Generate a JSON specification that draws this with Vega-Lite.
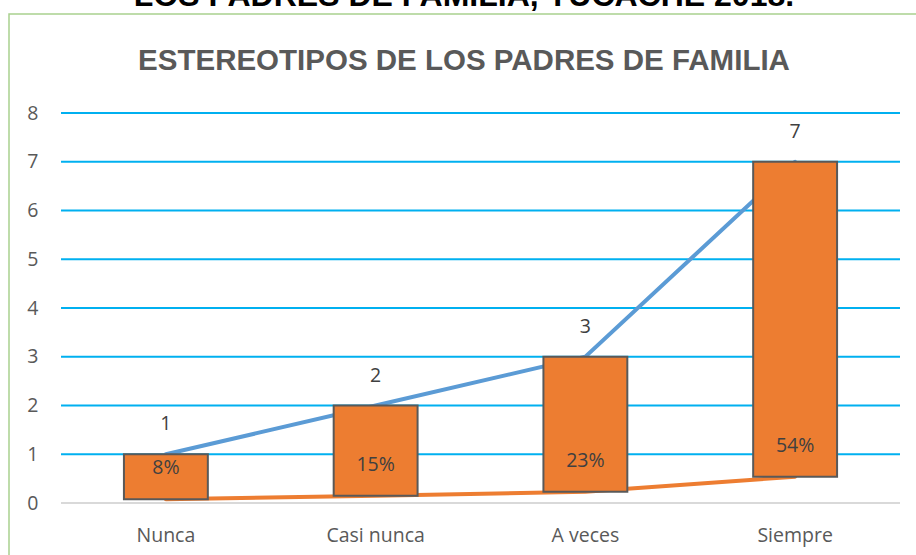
{
  "$schema": "https://vega.github.io/schema/vega-lite/v6.json",
  "width": 910,
  "height": 545,
  "autosize": {"type": "none"},
  "padding": {"left": 9, "top": 14, "right": 0, "bottom": 0},
  "background": "#ffffff",
  "title": {
    "text": "LOS PADRES DE FAMILIA, YUCACHE 2018.",
    "subtitle": "ESTEREOTIPOS DE LOS PADRES DE FAMILIA",
    "anchor": "middle",
    "frame": "group",
    "font": "Liberation Sans",
    "fontSize": 32,
    "fontWeight": "bold",
    "color": "#000000",
    "subtitleFont": "Liberation Sans",
    "subtitleFontSize": 29.5,
    "subtitleFontWeight": "bold",
    "subtitleColor": "#595959",
    "subtitlePadding": 34,
    "offset": -62
  },
  "datasets": {
    "main": [
      {"cat": "Nunca", "f": 1, "p": 0.08},
      {"cat": "Casi nunca", "f": 2, "p": 0.15},
      {"cat": "A veces", "f": 3, "p": 0.23},
      {"cat": "Siempre", "f": 7, "p": 0.54}
    ],
    "grid": [
      {"g": 0}, {"g": 1}, {"g": 2}, {"g": 3}, {"g": 4}, {"g": 5}, {"g": 6}, {"g": 7}, {"g": 8}
    ]
  },
  "layer": [
    {
      "data": {"name": "grid"},
      "mark": {"type": "rule", "strokeWidth": 2},
      "encoding": {
        "x": {"datum": "Nunca", "type": "nominal", "bandPosition": 0, "title": null,
              "scale": {"domain": ["Nunca", "Casi nunca", "A veces", "Siempre"], "paddingInner": 0, "paddingOuter": 0.1693, "align": 0.7324}},
        "x2": {"datum": "Siempre", "bandPosition": 1},
        "y": {"field": "g", "type": "quantitative", "title": null,
              "scale": {"domain": [-1.148, 10.031], "nice": false, "zero": false},
              "axis": {"values": [0, 1, 2, 3, 4, 5, 6, 7, 8]}},
        "color": {"condition": {"test": "datum.g == 0", "value": "#D9D9D9"}, "value": "#00B0F0"}
      }
    },
    {
      "data": {"name": "main"},
      "mark": {"type": "line", "color": "#5B9BD5", "strokeWidth": 4, "strokeCap": "round"},
      "encoding": {
        "x": {"field": "cat", "type": "nominal", "sort": null, "title": null},
        "y": {"field": "f", "type": "quantitative", "title": null}
      }
    },
    {
      "data": {"name": "main"},
      "mark": {"type": "line", "color": "#ED7D31", "strokeWidth": 4, "strokeCap": "round"},
      "encoding": {
        "x": {"field": "cat", "type": "nominal", "sort": null, "title": null},
        "y": {"field": "p", "type": "quantitative", "title": null}
      }
    },
    {
      "data": {"name": "main"},
      "mark": {"type": "bar", "fill": "#ED7D31", "stroke": "#595959", "strokeWidth": 2, "width": {"band": 0.4}},
      "encoding": {
        "x": {"field": "cat", "type": "nominal", "sort": null, "title": null},
        "y": {"field": "p", "type": "quantitative", "title": null},
        "y2": {"field": "f"}
      }
    },
    {
      "data": {"name": "main"},
      "mark": {"type": "text", "font": "Open Sans", "fontSize": 19.5, "color": "#404040", "dy": -30, "baseline": "middle"},
      "encoding": {
        "x": {"field": "cat", "type": "nominal", "sort": null, "title": null},
        "y": {"field": "f", "type": "quantitative", "title": null},
        "text": {"field": "f", "type": "quantitative"}
      }
    },
    {
      "data": {"name": "main"},
      "mark": {"type": "text", "font": "Open Sans", "fontSize": 19.5, "color": "#404040", "dy": -31, "baseline": "middle"},
      "encoding": {
        "x": {"field": "cat", "type": "nominal", "sort": null, "title": null},
        "y": {"field": "p", "type": "quantitative", "title": null},
        "text": {"field": "p", "type": "quantitative", "format": ".0%"}
      }
    }
  ],
  "config": {
    "view": {"stroke": "#A9D18E", "strokeWidth": 1.5},
    "axisX": {"labelAngle": 0, "labelFont": "Open Sans", "labelFontSize": 19.5, "labelColor": "#595959", "ticks": false, "domain": false, "grid": false, "labelPadding": 0, "labelBaseline": "middle", "offset": -24},
    "axisY": {"labelFont": "Open Sans", "labelFontSize": 19.5, "labelColor": "#595959", "ticks": false, "domain": false, "grid": false, "labelPadding": 0, "offset": -29, "labelOverlap": false}
  }
}
